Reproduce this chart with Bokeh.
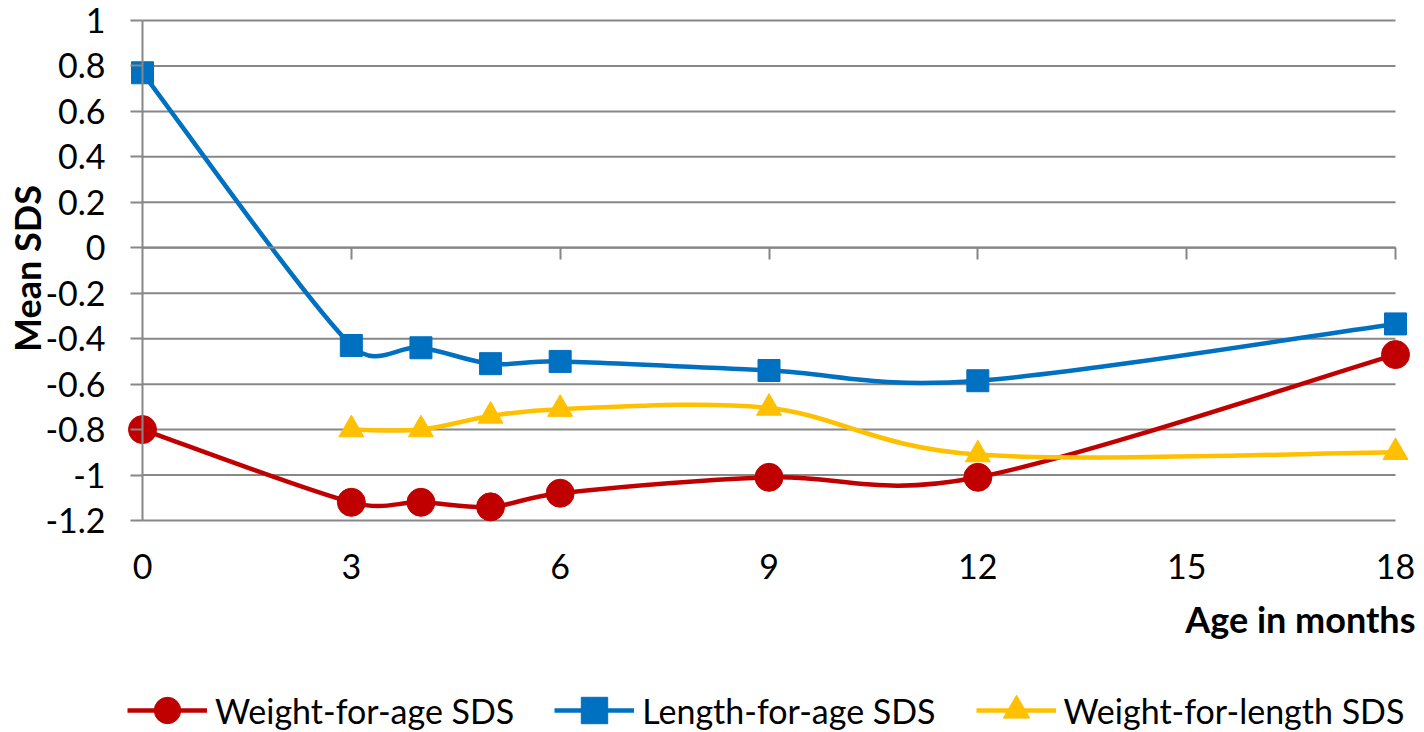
import math
from bokeh.plotting import figure
from bokeh.layouts import column
from bokeh.models import (Range1d, LinearAxis, FixedTicker, Legend, LegendItem,
                          ColumnDataSource, Title)
from bokeh.embed import file_html
from bokeh.resources import INLINE

# ---------------- data ----------------
ages = [0, 3, 4, 5, 6, 9, 12, 18]
weight_for_age = [-0.80, -1.12, -1.12, -1.14, -1.08, -1.01, -1.01, -0.47]
length_for_age = [0.77, -0.43, -0.44, -0.51, -0.50, -0.54, -0.585, -0.335]
wfl_ages = [3, 4, 5, 6, 9, 12, 18]
weight_for_length = [-0.80, -0.80, -0.74, -0.71, -0.705, -0.91, -0.90]

x_ticks = [0, 3, 6, 9, 12, 15, 18]
y_ticks = [1, 0.8, 0.6, 0.4, 0.2, 0, -0.2, -0.4, -0.6, -0.8, -1, -1.2]
y_labels = {t: ("%g" % t) for t in y_ticks}

series_names = ["Weight-for-age SDS", "Length-for-age SDS", "Weight-for-length SDS"]
colors = ["#C00000", "#0070C0", "#FFC000"]
marker_types = ["circle", "square", "triangle"]
marker_sizes = [28, 22, 25]

FONT = "Lato"
GRID = "#878787"
LW = 4.5

# ---------------- layout ----------------
W, H1, H2 = 1424, 690, 40
MB_LEFT, MB_RIGHT, MB_TOP, MB_BOTTOM = 127, 9, 6, 160
frame_w = W - MB_LEFT - MB_RIGHT
frame_h = H1 - MB_TOP - MB_BOTTOM
xmin, xmax = 0, 18
ymin, ymax = -1.2, 1.0
pad_l, pad_r = 15, 20          # px between frame edge and data extent
pad_t, pad_b = 14, 10
sx = (frame_w - pad_l - pad_r) / (xmax - xmin)
sy = (frame_h - pad_t - pad_b) / (ymax - ymin)

p = figure(width=W, height=H1, output_backend="svg", toolbar_location=None,
           title=None, x_axis_location=None, y_axis_location=None,
           x_range=Range1d(xmin - pad_l / sx, xmax + pad_r / sx),
           y_range=Range1d(ymin - pad_b / sy, ymax + pad_t / sy),
           min_border_left=MB_LEFT, min_border_right=MB_RIGHT,
           min_border_top=MB_TOP, min_border_bottom=MB_BOTTOM)
p.outline_line_color = None
p.grid.visible = False
p.background_fill_color = "white"
p.border_fill_color = "white"

# horizontal gridlines (from the y ticks, spanning the x extent)
p.segment(x0=[xmin] * len(y_ticks), x1=[xmax] * len(y_ticks), y0=y_ticks, y1=y_ticks,
          line_color=GRID, line_width=2)

# y axis: tick labels + title in the left panel
ylab = LinearAxis(ticker=FixedTicker(ticks=y_ticks), major_label_overrides=y_labels,
                  bounds=(ymin, ymax), axis_label="Mean SDS")
ylab.axis_line_color = None
ylab.major_tick_line_color = None
ylab.major_tick_out = 0
ylab.major_tick_in = 0
ylab.minor_tick_line_color = None
ylab.minor_tick_out = 0
ylab.major_label_standoff = 22
ylab.major_label_text_font = FONT
ylab.major_label_text_font_size = "34px"
ylab.major_label_text_color = "black"
ylab.axis_label_standoff = -7
ylab.axis_label_text_font = FONT
ylab.axis_label_text_font_size = "36px"
ylab.axis_label_text_font_style = "bold"
ylab.axis_label_text_color = "black"
p.add_layout(ylab, "left")

# y axis line with ticks pointing left, at x = 0
yax = LinearAxis(fixed_location=0, bounds=(ymin, ymax),
                 ticker=FixedTicker(ticks=y_ticks),
                 major_label_overrides={t: "" for t in y_ticks})
yax.axis_line_color = GRID
yax.axis_line_width = 2
yax.major_tick_line_color = GRID
yax.major_tick_line_width = 2
yax.major_tick_out = 0
yax.major_tick_in = 12
yax.minor_tick_line_color = None
yax.minor_tick_out = 0
yax.minor_tick_in = 0
yax.major_label_standoff = 0
yax.major_label_text_font_size = "1px"
p.add_layout(yax, "right")

# x tick labels at the bottom
xlab = LinearAxis(ticker=FixedTicker(ticks=x_ticks))
xlab.axis_line_color = None
xlab.major_tick_line_color = None
xlab.major_tick_out = 0
xlab.major_tick_in = 0
xlab.minor_tick_line_color = None
xlab.minor_tick_out = 0
xlab.major_label_standoff = 23
xlab.major_label_text_font = FONT
xlab.major_label_text_font_size = "34px"
xlab.major_label_text_color = "black"
p.add_layout(xlab, "below")

# x axis title, right aligned
p.add_layout(Title(text="Age in months", align="right", text_font=FONT,
                   text_font_size="36px", text_font_style="bold",
                   text_color="black", standoff=27), "below")

# x axis line with ticks pointing down, crossing at y = 0
xax = LinearAxis(fixed_location=0, bounds=(xmin, xmax),
                 ticker=FixedTicker(ticks=x_ticks[1:]),
                 major_label_overrides={t: "" for t in x_ticks[1:]})
xax.axis_line_color = GRID
xax.axis_line_width = 2
xax.major_tick_line_color = GRID
xax.major_tick_line_width = 2
xax.major_tick_out = 0
xax.major_tick_in = 12
xax.minor_tick_line_color = None
xax.minor_tick_out = 0
xax.minor_tick_in = 0
xax.major_label_standoff = 0
xax.major_label_text_font_size = "1px"
p.add_layout(xax, "above")


# smoothed (Excel-like) curves drawn as cubic Bezier segments through the data points
def bezier_source(xs, ys, f=1.0 / 6.0):
    def dist(i, j):
        return math.hypot((xs[i] - xs[j]) * sx, (ys[i] - ys[j]) * sy)

    n = len(xs)
    d = dict(x0=[], y0=[], x1=[], y1=[], cx0=[], cy0=[], cx1=[], cy1=[])
    for i in range(n - 1):
        a = i - 1 if i > 0 else i
        b = i + 2 if i + 2 < n else i + 1
        d12 = dist(i, i + 1)
        d02 = dist(a, i + 1)
        d13 = dist(i, b)
        f0 = f if d02 * f < d12 / 2 else d12 / (2 * d02)
        f1 = f if d13 * f < d12 / 2 else d12 / (2 * d13)
        d["x0"].append(xs[i]); d["y0"].append(ys[i])
        d["x1"].append(xs[i + 1]); d["y1"].append(ys[i + 1])
        d["cx0"].append(xs[i] + (xs[i + 1] - xs[a]) * f0)
        d["cy0"].append(ys[i] + (ys[i + 1] - ys[a]) * f0)
        d["cx1"].append(xs[i + 1] - (xs[b] - xs[i]) * f1)
        d["cy1"].append(ys[i + 1] - (ys[b] - ys[i]) * f1)
    return ColumnDataSource(d)


all_x = [ages, ages, wfl_ages]
all_y = [weight_for_age, length_for_age, weight_for_length]
for xs, ys, c in zip(all_x, all_y, colors):
    p.bezier(x0="x0", y0="y0", x1="x1", y1="y1", cx0="cx0", cy0="cy0",
             cx1="cx1", cy1="cy1", source=bezier_source(xs, ys),
             line_color=c, line_width=LW)

# markers (drawn last series first so the circles sit on top)
for i in [2, 1, 0]:
    p.scatter(all_x[i], all_y[i], marker=marker_types[i], size=marker_sizes[i],
              fill_color=colors[i], line_color=colors[i])

# ---------------- legend strip (separate figure below the chart) ----------------
lg = figure(width=W, height=H2, output_backend="svg", toolbar_location=None,
            title=None, x_axis_location=None, y_axis_location=None,
            x_range=Range1d(100, 101), y_range=Range1d(100, 101),
            min_border_left=0, min_border_right=0, min_border_top=0,
            min_border_bottom=0)
lg.outline_line_color = None
lg.grid.visible = False
items = []
for i in range(3):
    lr = lg.line(all_x[i], all_y[i], line_color=colors[i], line_width=LW)
    mr = lg.scatter(all_x[i], all_y[i], marker=marker_types[i], size=marker_sizes[i],
                    fill_color=colors[i], line_color=colors[i])
    items.append(LegendItem(label=series_names[i], renderers=[lr, mr]))

legend = Legend(items=items, orientation="horizontal", location=(0, -13),
                glyph_width=80, glyph_height=66, label_height=40,
                label_standoff=8, spacing=40, padding=0, margin=0,
                border_line_color=None, background_fill_alpha=0,
                label_text_font=FONT, label_text_font_size="34px",
                label_text_color="black")
lg.add_layout(legend)

layout = column(p, lg, spacing=0)
open("out.html", "w").write(file_html(layout, INLINE))
